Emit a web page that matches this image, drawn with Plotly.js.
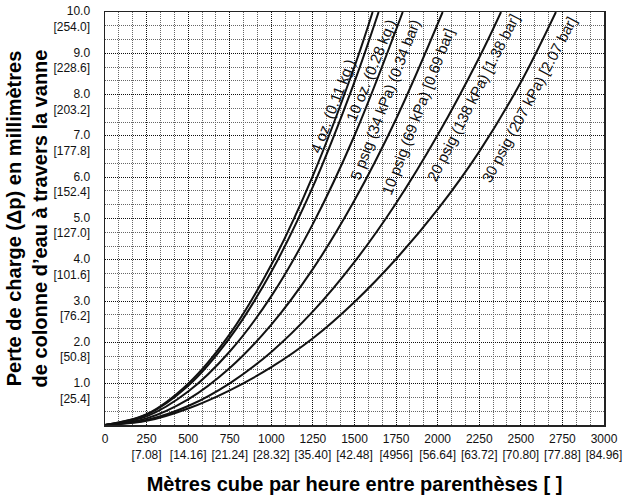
<!DOCTYPE html>
<html><head><meta charset="utf-8">
<script src="https://cdn.plot.ly/plotly-3.0.1.min.js"></script>
<style>html,body{margin:0;padding:0;background:#fff}#c{width:623px;height:504px}</style>
</head><body><div id="c"></div>
<script>
// Pressure-drop readings per curve (flow on x, pressure drop on y)
const q_4oz   = [0, 250, 500, 750, 1000, 1250, 1500, 1609];
const dp_4oz  = [0, 0.26, 1.00, 2.20, 3.88, 6.04, 8.68, 10.0];
const q_10oz  = [0, 250, 500, 750, 1000, 1250, 1500, 1645];
const dp_10oz = [0, 0.25, 0.95, 2.11, 3.71, 5.77, 8.31, 10.0];
const q_5psi  = [0, 250, 500, 750, 1000, 1250, 1500, 1790];
const dp_5psi = [0, 0.21, 0.81, 1.78, 3.12, 4.87, 7.01, 10.0];
const q_10psi = [0, 250, 500, 750, 1000, 1250, 1500, 1750, 2030];
const dp_10psi= [0, 0.16, 0.62, 1.38, 2.43, 3.78, 5.44, 7.41, 10.0];
const q_20psi = [0, 250, 500, 750, 1000, 1250, 1500, 1750, 2000, 2250, 2381];
const dp_20psi= [0, 0.12, 0.46, 1.01, 1.77, 2.75, 3.95, 5.37, 7.02, 8.90, 10.0];
const q_30psi = [0, 250, 500, 750, 1000, 1250, 1500, 1750, 2000, 2250, 2500, 2711];
const dp_30psi= [0, 0.10, 0.40, 0.84, 1.40, 2.10, 2.98, 4.02, 5.22, 6.62, 8.30, 10.0];

const curveLabels = ["4 oz. (0.11 kg.)", "10 oz. (0.28 kg.)", "5 psig (34 kPa) (0.34 bar)",
                     "10 psig (69 kPa) [0.69 bar]", "20 psig (138 kPa) [1.38 bar]", "30 psig (207 kPa) [2.07 bar]"];
const labelQ  = [1370, 1598, 1684, 1882, 2214, 2548];
const labelDp = [7.73, 8.58, 7.88, 7.58, 7.92, 7.89];
const labelAngle = [-69, -68, -69, -69, -63, -62];

const xTickVals = [0, 250, 500, 750, 1000, 1250, 1500, 1750, 2000, 2250, 2500, 2750, 3000];
const xTickText = ["0", "250<br>[7.08]", "500<br>[14.16]", "750<br>[21.24]", "1000<br>[28.32]", "1250<br>[35.40]",
                   "1500<br>[42.48]", "1750<br>[4956]", "2000<br>[56.64]", "2250<br>[63.72]", "2500<br>[70.80]",
                   "2750<br>[77.88]", "3000<br>[84.96]"];
const yTickVals = [1, 2, 3, 4, 5, 6, 7, 8, 9, 10];
const yTickText = ["1.0<br>[25.4]", "2.0<br>[50.8]", "3.0<br>[76.2]", "4.0<br>[101.6]", "5.0<br>[127.0]",
                   "6.0<br>[152.4]", "7.0<br>[177.8]", "8.0<br>[203.2]", "9.0<br>[228.6]", "10.0<br>[254.0]"];

const series = [[q_4oz, dp_4oz], [q_10oz, dp_10oz], [q_5psi, dp_5psi], [q_10psi, dp_10psi], [q_20psi, dp_20psi], [q_30psi, dp_30psi]];
const traces = series.map((s, i) => ({
  x: s[0], y: s[1], type: 'scatter', mode: 'lines', name: curveLabels[i],
  line: {color: '#111', width: 2, shape: 'spline', smoothing: 1}, hoverinfo: 'skip'
}));

// minor grid positions (thirds between major lines)
const xMinor = [], yMinor = [];
for (let k = 0; k < 12; k++) { xMinor.push(250 * k + 250 / 3, 250 * k + 500 / 3); }
for (let k = 0; k < 10; k++) { yMinor.push(k + 1 / 3, k + 2 / 3); }

const sans = '"Liberation Sans", Arial, sans-serif';
const annotations = curveLabels.map((t, i) => ({
  text: t, x: labelQ[i], y: labelDp[i], xref: 'x', yref: 'y', showarrow: false,
  textangle: labelAngle[i], font: {family: sans, size: 15, color: '#111'}
}));

const layout = {
  width: 623, height: 504,
  margin: {l: 105, r: 19, t: 12, b: 79},
  paper_bgcolor: '#fff', plot_bgcolor: '#fff',
  showlegend: false,
  xaxis: {
    range: [0, 3000], tickvals: xTickVals, ticktext: xTickText, ticks: '', tickangle: 0,
    ticklabelstandoff: 2,
    tickfont: {family: sans, size: 12, color: '#111'},
    showgrid: true, gridcolor: '#111', griddash: '1px,1px', gridwidth: 1,
    minor: {tickmode: 'array', tickvals: xMinor, showgrid: true, gridcolor: '#666', griddash: '1px,1px', gridwidth: 1, ticks: ''},
    showline: true, linecolor: '#222', linewidth: 1.5, mirror: true, zeroline: false,
    title: {text: 'Mètres cube par heure entre parenthèses [ ]', standoff: 16,
            font: {family: sans, size: 20, color: '#000', weight: 'bold'}}
  },
  yaxis: {
    range: [0, 10], tickvals: yTickVals, ticktext: yTickText, ticks: '',
    ticklabelshift: 7, ticklabelstandoff: 11, ticklabeloverflow: 'allow',
    tickfont: {family: sans, size: 12, color: '#111'},
    showgrid: true, gridcolor: '#111', griddash: '1px,1px', gridwidth: 1,
    minor: {tickmode: 'array', tickvals: yMinor, showgrid: true, gridcolor: '#666', griddash: '1px,1px', gridwidth: 1, ticks: ''},
    showline: true, linecolor: '#222', linewidth: 1.5, mirror: true, zeroline: false,
    title: {text: 'Perte de charge (Δp) en millimètres<br>de colonne d’eau à travers la vanne', standoff: 0,
            font: {family: sans, size: 20, color: '#000', weight: 'bold'}}
  },
  annotations: annotations
};
Plotly.newPlot('c', traces, layout, {staticPlot: true, displayModeBar: false});
</script></body></html>
